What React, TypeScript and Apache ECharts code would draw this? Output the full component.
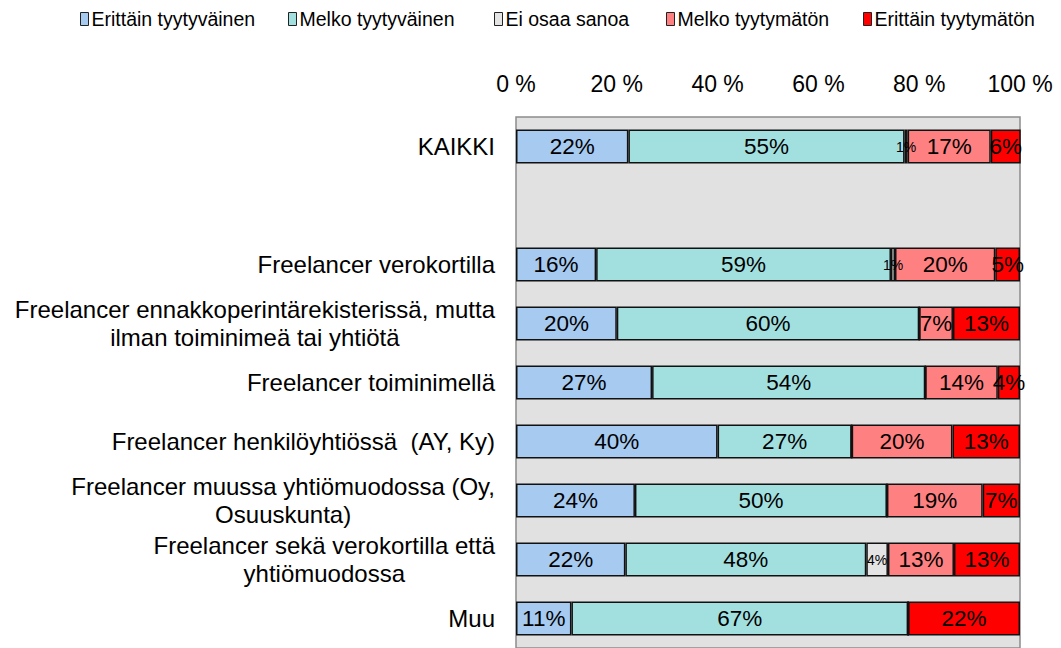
import React, { useEffect, useRef } from "react";
import * as echarts from "echarts";

const categories = [
  "KAIKKI",
  " ",
  "Freelancer verokortilla",
  "Freelancer ennakkoperintärekisterissä, mutta\nilman toiminimeä tai yhtiötä",
  "Freelancer toiminimellä",
  "Freelancer henkilöyhtiössä  (AY, Ky)",
  "Freelancer muussa yhtiömuodossa (Oy,\nOsuuskunta)",
  "Freelancer sekä verokortilla että\nyhtiömuodossa",
  "Muu",
];

const seriesNames = [
  "Erittäin tyytyväinen",
  "Melko tyytyväinen",
  "Ei osaa sanoa",
  "Melko tyytymätön",
  "Erittäin tyytymätön",
];

const erittainTyytyvainen = [22.3, null, 15.9, 20, 27, 40, 23.6, 21.7, 11];
const melkoTyytyvainen = [54.8, null, 58.5, 60, 54.2, 26.6, 50, 47.8, 66.8];
const eiOsaaSanoa = [0.6, null, 0.8, 0, 0, 0, 0, 4.3, 0];
const melkoTyytymaton = [16.5, null, 19.9, 6.7, 14.4, 20, 19, 13.1, 0];
const erittainTyytymaton = [6.0, null, 4.9, 13.3, 4.4, 13.4, 7.4, 13.1, 22.2];

const seriesData = [
  erittainTyytyvainen,
  melkoTyytyvainen,
  eiOsaaSanoa,
  melkoTyytymaton,
  erittainTyytymaton,
];

const colors = ["#A6CAF0", "#A2E0E0", "#E4E4E4", "#FF8080", "#FF0000"];
const legendLefts = [80, 288, 494, 666, 863];
const xTicks = { min: 0, max: 100, interval: 20 };

export default function App() {
  const ref = useRef<HTMLDivElement>(null);
  useEffect(() => {
    document.body.style.margin = "0";
    const chart = echarts.init(ref.current!, null, { renderer: "svg" });
    const font = "'Liberation Sans', Arial, sans-serif";
    chart.setOption({
      animation: false,
      textStyle: { fontFamily: font },
      legend: seriesNames.map((name, i) => ({
        top: 9,
        left: legendLefts[i],
        padding: 0,
        itemWidth: 8,
        itemHeight: 13,
        icon: "rect",
        textStyle: {
          fontSize: 19.5,
          color: "#000",
          fontFamily: font,
          padding: [0, 0, 0, -2],
        },
        itemStyle: { borderColor: "#222", borderWidth: 1 },
        data: [name],
      })),
      grid: {
        left: 516,
        right: 41,
        top: 117,
        bottom: -4,
        show: true,
        backgroundColor: "#E1E1E1",
        borderColor: "#8C8C8C",
        borderWidth: 1.5,
      },
      xAxis: {
        type: "value",
        position: "top",
        min: xTicks.min,
        max: xTicks.max,
        interval: xTicks.interval,
        axisLine: { show: false },
        axisTick: { show: false },
        splitLine: { show: false },
        axisLabel: {
          formatter: "{value} %",
          fontSize: 23,
          color: "#000",
          margin: 22,
          fontFamily: font,
        },
      },
      yAxis: {
        type: "category",
        inverse: true,
        data: categories,
        axisLine: { show: false },
        axisTick: { show: false },
        axisLabel: {
          margin: 21,
          fontSize: 24,
          color: "#000",
          lineHeight: 28,
          fontFamily: font,
          formatter: (v: string) =>
            v
              .split("\n")
              .map((l) => "{c|" + l + "}")
              .join("\n"),
          rich: {
            c: { align: "center", fontSize: 24, lineHeight: 28, color: "#000", fontFamily: font },
          },
        },
      },
      series: seriesNames.map((name, i) => ({
        name,
        type: "bar",
        stack: "total",
        barWidth: 34,
        data: seriesData[i],
        itemStyle: {
          color: colors[i],
          borderColor: "#111",
          borderWidth: 1.5,
        },
        label: {
          show: true,
          position: "inside",
          color: "#000",
          fontSize: i === 2 ? 14 : 22.5,
          fontFamily: font,
          formatter: (p: any) =>
            p.value == null || p.value < 0.5 ? "" : Math.round(p.value) + "%",
        },
      })),
    });
    return () => chart.dispose();
  }, []);
  return <div ref={ref} style={{ width: 1061, height: 648 }} />;
}
